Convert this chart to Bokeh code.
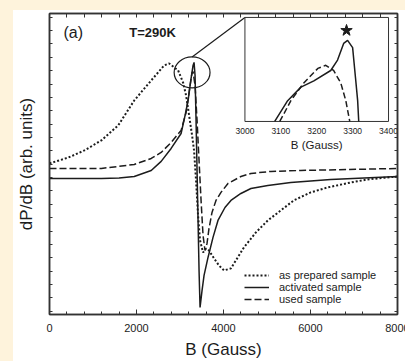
from bokeh.plotting import figure
from bokeh.models import Range1d, LinearAxis, SingleIntervalTicker, FixedTicker, Legend, LegendItem
from bokeh.embed import file_html
from bokeh.resources import INLINE
from bokeh.core.properties import value

# ---- main panel data (B in Gauss, dP/dB in arbitrary units) ----
prep_B = [0, 435, 802, 1192, 1581, 1948, 2338, 2636, 2750, 2957, 3071, 3140, 3209, 3278, 3323,
          3369, 3415, 3461, 3530, 3598, 3667, 3782, 3896, 4011, 4171, 4469, 4744, 5019, 5317,
          5615, 6005, 6395, 6922, 7311, 8000]
prep_y = [11.06, 11.50, 12.03, 12.78, 13.91, 15.77, 17.27, 18.39, 18.54, 18.02, 17.11, 16.14,
          14.66, 13.15, 12.03, 9.78, 7.16, 5.29, 4.39, 4.69, 4.54, 3.95, 3.42, 3.05, 3.20, 4.77,
          5.89, 6.79, 7.54, 8.29, 8.89, 9.26, 9.63, 9.86, 10.08]

act_B = [0, 1192, 1600, 1948, 2338, 2567, 2796, 3025, 3117, 3186, 3255, 3300, 3323, 3346, 3369,
         3392, 3415, 3438, 3461, 3507, 3553, 3644, 3759, 3873, 4034, 4171, 4400, 4630, 5019,
         5546, 6463, 8000]
act_y = [9.93, 9.93, 9.96, 10.08, 10.53, 11.21, 12.18, 13.30, 14.66, 15.77, 17.42, 18.39, 18.62,
         17.64, 14.28, 10.53, 6.79, 3.05, 0.28, 1.55, 2.68, 4.02, 5.52, 6.79, 7.76, 8.29, 8.81,
         9.18, 9.41, 9.63, 9.86, 10.08]

used_B = [0, 1192, 1948, 2338, 2567, 2796, 3025, 3140, 3209, 3255, 3278, 3300, 3346, 3392, 3438,
          3484, 3530, 3575, 3621, 3667, 3736, 3827, 3942, 4103, 4400, 4630, 5088, 5776, 8000]
used_y = [10.68, 10.68, 10.98, 11.43, 11.88, 12.63, 13.53, 14.87, 16.37, 17.42, 17.87, 17.94,
          16.89, 14.28, 11.28, 8.29, 5.67, 4.54, 5.07, 6.19, 7.39, 8.29, 8.89, 9.56, 10.08,
          10.31, 10.46, 10.53, 10.68]

# ---- inset data ----
ins_act_B = [3083, 3119, 3156, 3192, 3239, 3258, 3275, 3286, 3300, 3308, 3314, 3317]
ins_act_y = [0, 0.20, 0.33, 0.39, 0.49, 0.59, 0.75, 0.78, 0.71, 0.42, 0.20, 0]
ins_used_B = [3097, 3128, 3164, 3203, 3225, 3247, 3267, 3281, 3292]
ins_used_y = [0, 0.20, 0.37, 0.51, 0.54, 0.49, 0.37, 0.20, 0]
ins_ticks = [3000, 3100, 3200, 3300, 3400]
ins_peak_B = [3283]

labels = ["as prepared sample", "activated sample", "used sample"]
y_ticks = list(range(0, 23))          # unlabelled y tick marks
x_minor = list(range(0, 8001, 400))   # unlabelled top tick marks

FONT = "Liberation Sans"
INK = "#1c1c1c"
AX = "#333333"
CREAM = "#FEF3DC"

p = figure(width=400, height=351, output_backend="svg", toolbar_location=None,
           x_range=Range1d(0, 8000), y_range=Range1d(-0.25, 22.28),
           min_border_left=35, min_border_right=16, min_border_top=3, min_border_bottom=47)
p.extra_x_ranges = {"ix": Range1d(2455.6, 3425.0)}
p.extra_y_ranges = {"iy": Range1d(-1.856, 1.038)}
p.grid.visible = False
p.background_fill_color = "white"
p.border_fill_color = "white"
p.outline_line_color = AX
p.outline_line_width = 1.5

xt = SingleIntervalTicker(interval=2000, num_minor_ticks=5)

xa = p.xaxis[0]
xa.ticker = xt
xa.major_tick_in = 5
xa.major_tick_out = 0
xa.minor_tick_in = 3
xa.minor_tick_out = 0
xa.axis_line_color = AX
xa.axis_line_width = 1.5
xa.major_tick_line_color = AX
xa.minor_tick_line_color = AX
xa.major_label_text_font = FONT
xa.major_label_text_font_size = "11px"
xa.major_label_text_color = INK
xa.major_label_standoff = 9
xa.axis_label = "B (Gauss)"
xa.axis_label_text_font = FONT
xa.axis_label_text_font_size = "17px"
xa.axis_label_text_font_style = "normal"
xa.axis_label_text_color = INK
xa.axis_label_standoff = 5

ya = p.yaxis[0]
ya.ticker = FixedTicker(ticks=[], minor_ticks=y_ticks)
ya.minor_tick_in = 3
ya.minor_tick_out = 0
ya.major_tick_line_color = None
ya.axis_line_color = AX
ya.axis_line_width = 1.5
ya.minor_tick_line_color = AX
ya.major_label_standoff = 0
ya.axis_label = "dP/dB (arb. units)"
ya.axis_label_text_font = FONT
ya.axis_label_text_font_size = "17px"
ya.axis_label_text_font_style = "normal"
ya.axis_label_text_color = INK
ya.axis_label_standoff = 14

top = LinearAxis(ticker=FixedTicker(ticks=[], minor_ticks=x_minor), minor_tick_in=4,
                 minor_tick_out=0, major_tick_line_color=None, major_label_standoff=0,
                 axis_line_color=AX, axis_line_width=1.5, minor_tick_line_color=AX)
p.add_layout(top, "above")
right = LinearAxis(ticker=FixedTicker(ticks=[], minor_ticks=y_ticks), minor_tick_in=3,
                   minor_tick_out=0, major_tick_line_color=None, major_label_standoff=0,
                   axis_line_color=AX, axis_line_width=1.5, minor_tick_line_color=AX)
p.add_layout(right, "right")

# main curves
r_prep = p.line(prep_B, prep_y, line_color=INK, line_width=2, line_dash="2 2")
r_act = p.line(act_B, act_y, line_color=INK, line_width=1.5)
r_used = p.line(used_B, used_y, line_color=INK, line_width=1.5, line_dash="7 3")

# circle around the peak and connector to inset
p.ellipse(x=[3278], y=[17.87], width=[825], height=[2.32], fill_color=None,
          line_color=INK, line_width=1.2)
p.line([3278, 4493], [19.03, 21.98], line_color=INK, line_width=1.2)

# inset
p.quad(left=[ins_ticks[0]], right=[ins_ticks[-1]], bottom=[0], top=[1],
       x_range_name="ix", y_range_name="iy",
       fill_color="white", line_color=AX, line_width=1)
p.line(ins_used_B, ins_used_y, x_range_name="ix", y_range_name="iy",
       line_color=INK, line_width=1.5, line_dash="6 3")
p.line(ins_act_B, ins_act_y, x_range_name="ix", y_range_name="iy",
       line_color=INK, line_width=1.5)
p.scatter(ins_peak_B, [0.875], marker="star", size=12, x_range_name="ix", y_range_name="iy",
          fill_color=INK, line_color=INK)
p.text(x=ins_ticks, y=[-0.087] * len(ins_ticks), text=[str(t) for t in ins_ticks],
       x_range_name="ix", y_range_name="iy", text_align="center", text_baseline="middle",
       text_font=value(FONT), text_font_size="8.5px", text_color=INK)
p.text(x=[3200], y=[-0.231], text=["B (Gauss)"], x_range_name="ix", y_range_name="iy",
       text_align="center", text_baseline="middle", text_font=value(FONT),
       text_font_size="11.5px", text_color=INK)

# annotations
p.text(x=[321], y=[20.86], text=["(a)"], text_align="left", text_baseline="middle",
       text_font=value(FONT), text_font_size="16px", text_color=INK)
p.text(x=[1834], y=[20.86], text=["T=290K"], text_align="left", text_baseline="middle",
       text_font=value(FONT), text_font_size="13px", text_font_style="bold", text_color=INK)

legend = Legend(items=[LegendItem(label=labels[0], renderers=[r_prep]),
                       LegendItem(label=labels[1], renderers=[r_act]),
                       LegendItem(label=labels[2], renderers=[r_used])],
                location=(195, 9), border_line_color=None, background_fill_alpha=0,
                padding=0, margin=0, spacing=0, glyph_width=25, glyph_height=12,
                label_height=12, label_standoff=10, label_text_font=FONT,
                label_text_font_size="11px", label_text_color=INK)
p.add_layout(legend)

page_css = ("<style>html{margin:0 !important;overflow:hidden;"
            "background:linear-gradient(to right, %s 13px, rgba(255,255,255,0) 13px),"
            "linear-gradient(to bottom, %s 10px, #ffffff 10px) !important;}"
            "body{margin:0 !important;overflow:hidden;background:transparent !important;"
            "padding:10px 0 0 13px !important;}</style></head>") % (CREAM, CREAM)
html = file_html(p, INLINE, title="EPR spectra")
html = html.replace("</head>", page_css, 1)
open("out.html", "w").write(html)
